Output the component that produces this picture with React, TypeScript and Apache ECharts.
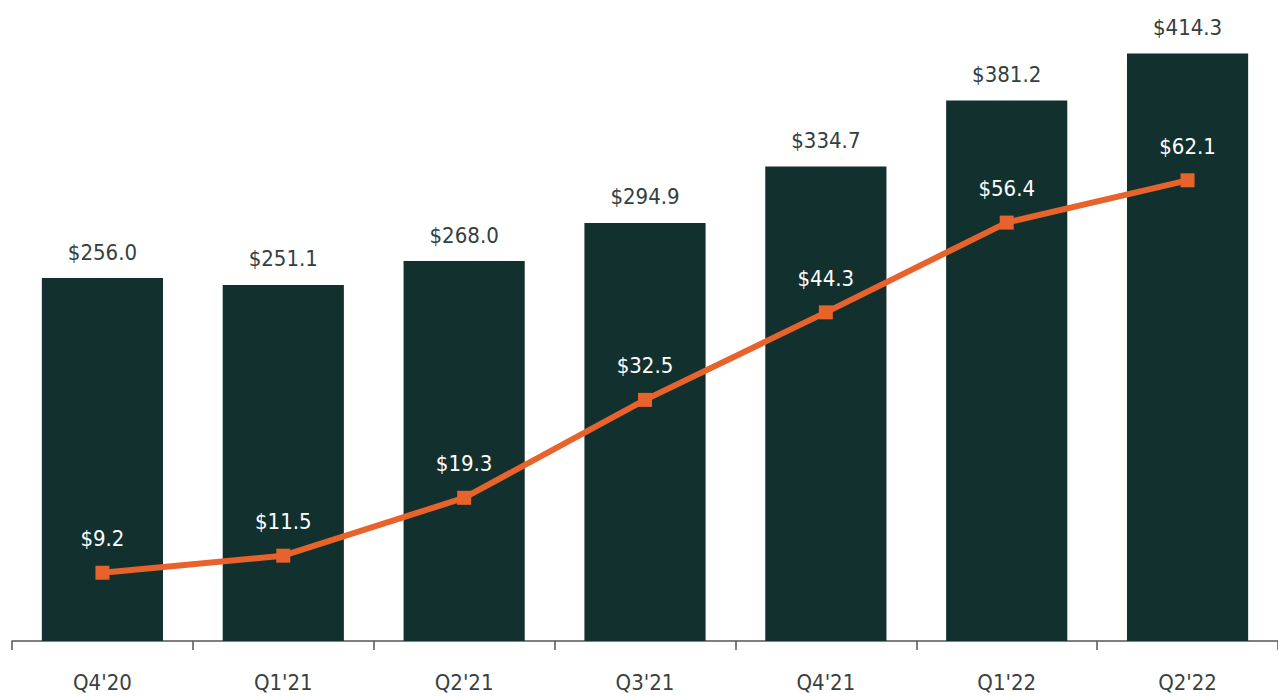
import React, { useEffect, useRef } from "react";
import * as echarts from "echarts";

const categories = ["Q4'20", "Q1'21", "Q2'21", "Q3'21", "Q4'21", "Q1'22", "Q2'22"];
const barValues = [256.0, 251.1, 268.0, 294.9, 334.7, 381.2, 414.3];
const lineValues = [9.2, 11.5, 19.3, 32.5, 44.3, 56.4, 62.1];

const FONT = "'Liberation Sans Narrow', 'DejaVu Sans Condensed', 'Noto Sans', sans-serif";

export default function App() {
  const ref = useRef<HTMLDivElement>(null);
  useEffect(() => {
    if (!ref.current) return;
    const chart = echarts.init(ref.current, null, { renderer: "svg" });
    chart.setOption({
      animation: false,
      backgroundColor: "#ffffff",
      grid: { left: 12, right: 0, top: 3, bottom: 57, containLabel: false },
      xAxis: {
        type: "category",
        data: categories,
        axisLine: { show: true, lineStyle: { color: "#555555", width: 1.5 } },
        axisTick: { show: true, length: 9, lineStyle: { color: "#555555", width: 1.5 } },
        axisLabel: {
          color: "#3a3f40",
          fontSize: 22,
          fontFamily: FONT,
          margin: 30,
        },
      },
      yAxis: [
        { type: "value", min: 0, max: 450, show: false, splitLine: { show: false } },
        { type: "value", min: 0, max: 86, show: false, splitLine: { show: false } },
      ],
      series: [
        {
          type: "bar",
          data: barValues,
          yAxisIndex: 0,
          barWidth: "67%",
          itemStyle: { color: "#12312e" },
          label: {
            show: true,
            position: "top",
            distance: 15,
            color: "#34403f",
            fontSize: 22,
            fontFamily: FONT,
            formatter: (p: any) => "$" + Number(p.value).toFixed(1),
          },
        },
        {
          type: "line",
          data: lineValues,
          yAxisIndex: 1,
          symbol: "rect",
          symbolSize: 14,
          lineStyle: { color: "#e8622c", width: 6 },
          itemStyle: { color: "#e8622c" },
          label: {
            show: true,
            position: "top",
            distance: 16,
            color: "#ffffff",
            fontSize: 22,
            fontFamily: FONT,
            formatter: (p: any) => "$" + Number(p.value).toFixed(1),
          },
        },
      ],
    });
    return () => chart.dispose();
  }, []);
  return (
    <div
      ref={ref}
      style={{ position: "fixed", left: 0, top: 0, width: 1278, height: 698 }}
    />
  );
}
